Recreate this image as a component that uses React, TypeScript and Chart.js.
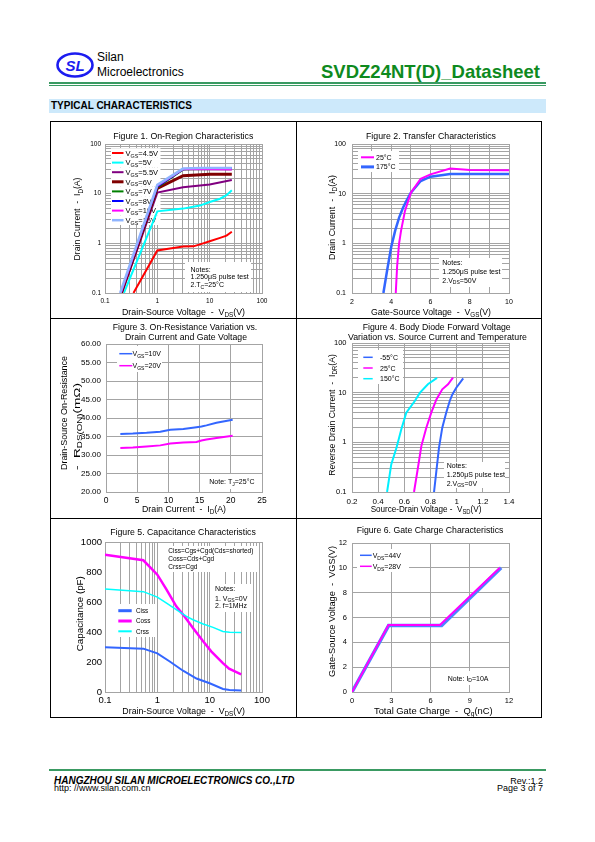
import React, { useEffect, useRef } from "react";
import { Chart, registerables } from "chart.js";

Chart.register(...registerables);

const FONT = "'Liberation Sans', Arial, Helvetica, sans-serif";
const GRID = "#a4a4a4";

// ---------------- Figure 1 : On-Region Characteristics ----------------
const f1Names = ["V_{GS}=4.5V", "V_{GS}=5V", "V_{GS}=5.5V", "V_{GS}=6V", "V_{GS}=7V", "V_{GS}=8V", "V_{GS}=10V", "V_{GS}=15V"];
const f1Colors = ["#ff0000", "#00ffff", "#800080", "#800000", "#008000", "#0000ff", "#ff00ff", "#8fb4ff"];
const f1Widths = [2, 2, 2, 3, 2, 2, 2, 2.5];
const f1Vds45 = [0.35, 1.0, 1.75, 3.1, 4.9, 7.5, 10, 15.8, 21, 26.5];
const f1Id45 = [0.1, 0.72, 0.79, 0.86, 0.87, 1.0, 1.1, 1.29, 1.43, 1.71];
const f1Vds5 = [0.23, 1.0, 3.1, 6.5, 10, 15.8, 21, 26.5];
const f1Id5 = [0.1, 4.4, 5.0, 5.75, 6.8, 7.9, 9.3, 11.7];
const f1Vds55 = [0.21, 1.0, 3.1, 10, 26.5];
const f1Id55 = [0.1, 10.5, 13.4, 15.3, 18.8];
const f1Vds6 = [0.205, 1.0, 3.1, 10, 26.5];
const f1Id6 = [0.1, 12.8, 23.0, 24.5, 24.5];
const f1Vds7 = [0.2, 1.0, 3.1, 10, 26.5];
const f1Id7 = [0.1, 13.5, 30.5, 31.5, 31];
const f1Vds8 = [0.2, 1.0, 3.1, 7, 26.5];
const f1Id8 = [0.1, 14, 31, 33, 32.5];
const f1Vds10 = [0.2, 1.0, 3.1, 10, 26.5];
const f1Id10 = [0.1, 14.5, 31, 31, 30.5];
const f1Vds15 = [0.195, 1.0, 3.1, 7, 26.5];
const f1Id15 = [0.1, 15, 32, 33, 33];

// ---------------- Figure 2 : Transfer Characteristics ----------------
const f2Names = ["25°C", "175°C"];
const f2Vgs25 = [4.23, 4.3, 4.4, 4.5, 4.7, 5.0, 5.5, 6.0, 7.0, 8.0, 10.0];
const f2Id25 = [0.1, 0.35, 1.0, 1.8, 4.5, 10.5, 20, 24.5, 32, 30, 29.5];
const f2Vgs175 = [3.6, 3.8, 4.0, 4.2, 4.4, 4.6, 4.8, 5.0, 5.5, 6.0, 7.0, 10.0];
const f2Id175 = [0.1, 0.3, 0.85, 1.8, 3.3, 5.2, 7.5, 10.5, 18, 22, 25, 25];

// ---------------- Figure 3 : On-Resistance ----------------
const f3Names = ["V_{GS}=10V", "V_{GS}=20V"];
const f3Id = [2.3, 4.3, 6.5, 8.7, 10.3, 12.4, 14.5, 15.3, 16.1, 17.7, 20.3];
const f3R10 = [35.7, 35.8, 36.0, 36.3, 36.8, 37.0, 37.5, 37.7, 38.0, 38.7, 39.5];
const f3R20 = [31.9, 32.0, 32.3, 32.6, 33.1, 33.4, 33.5, 33.9, 34.2, 34.6, 35.2];

// ---------------- Figure 4 : Body Diode ----------------
const f4Names = ["-55°C", "25°C", "150°C"];
const f4Vm55 = [0.827, 0.845, 0.865, 0.89, 0.92, 0.947, 0.967, 0.997, 1.05];
const f4Im55 = [0.1, 0.265, 0.78, 1.97, 3.95, 6.8, 9.2, 12.6, 19.4];
const f4V25 = [0.674, 0.7, 0.73, 0.768, 0.806, 0.845, 0.89, 0.934, 0.972];
const f4I25 = [0.1, 0.265, 0.84, 1.97, 3.95, 7.3, 11.7, 14.7, 20];
const f4V150 = [0.468, 0.5, 0.54, 0.577, 0.615, 0.68, 0.72, 0.78, 0.85];
const f4I150 = [0.1, 0.36, 0.78, 1.83, 3.95, 6.8, 10, 14.8, 19.8];

// ---------------- Figure 5 : Capacitance ----------------
const f5Names = ["Ciss", "Coss", "Crss"];
const f5VdsIss = [0.1, 0.54, 1.0, 1.7, 3.1, 5.6, 10, 18, 24, 40];
const f5Ciss = [298, 289, 258, 205, 142, 90, 58, 20, 14, 10];
const f5VdsOss = [0.1, 0.54, 1.0, 1.5, 2.3, 3.1, 4.8, 7.5, 10.7, 17.9, 23.5, 40];
const f5Coss = [915, 878, 782, 682, 571, 516, 427, 338, 271, 193, 155, 118];
const f5VdsRss = [0.1, 0.54, 1.0, 1.5, 2.3, 3.6, 4.8, 7.5, 11.6, 17.9, 24, 40];
const f5Crss = [687, 669, 633, 593, 549, 504, 482, 453, 431, 404, 398, 396];

// ---------------- Figure 6 : Gate Charge ----------------
const f6Names = ["V_{DS}=44V", "V_{DS}=28V"];
const f6Qg44 = [0, 2.8, 6.85, 11.4];
const f6Vgs44 = [0, 5.35, 5.35, 10];
const f6Qg28 = [0, 2.79, 6.72, 11.3];
const f6Vgs28 = [0, 5.39, 5.39, 10];

// ---------------- helpers ----------------
type Seg = { t: string; k: number };
function parseRich(s: string): Seg[] {
  const segs: Seg[] = [];
  let buf = "";
  let i = 0;
  while (i < s.length) {
    if ((s[i] === "_" || s[i] === "^") && s[i + 1] === "{") {
      if (buf) segs.push({ t: buf, k: 0 });
      buf = "";
      const end = s.indexOf("}", i);
      segs.push({ t: s.slice(i + 2, end), k: s[i] === "_" ? 1 : 2 });
      i = end + 1;
    } else {
      buf += s[i];
      i++;
    }
  }
  if (buf) segs.push({ t: buf, k: 0 });
  return segs;
}

function drawRich(ctx: CanvasRenderingContext2D, s: string, x: number, y: number, size: number, align: string, targetW?: number) {
  const segs = parseRich(s);
  const sub = size * 0.72;
  const widths: number[] = [];
  let w = 0;
  for (const sg of segs) {
    ctx.font = `${sg.k ? sub : size}px ${FONT}`;
    const m = ctx.measureText(sg.t).width;
    widths.push(m);
    w += m;
  }
  const sx = targetW ? targetW / w : 1;
  ctx.save();
  ctx.translate(x, y);
  ctx.scale(sx, 1);
  let cx = align === "center" ? -w / 2 : 0;
  ctx.fillStyle = "#000";
  ctx.textAlign = "left";
  ctx.textBaseline = "alphabetic";
  const base = size * 0.36;
  segs.forEach((sg, i) => {
    ctx.font = `${sg.k ? sub : size}px ${FONT}`;
    const dy = sg.k === 1 ? size * 0.25 : sg.k === 2 ? -size * 0.38 : 0;
    ctx.fillText(sg.t, cx, base + dy);
    cx += widths[i];
  });
  ctx.restore();
  return w * sx;
}

type Txt = { t: string; x: number; y: number; w?: number; size: number; rot?: boolean };
type LegendItem = { t: string; color: string; width: number };
type Legend = { x1: number; x2: number; tx: number; y0: number; step: number; size: number; items: LegendItem[]; box?: number[] };
type Note = { box?: number[]; tx: number; ys: number[]; lines: string[]; size: number };
type Decor = { texts: Txt[]; legend: Legend; notes: Note[] };

function makeDecor(ox: number, oy: number, d: Decor, borderTop: boolean) {
  return {
    id: "decor",
    beforeDatasetsDraw(chart: any) {
      const ctx: CanvasRenderingContext2D = chart.ctx;
      const a = chart.chartArea;
      if (borderTop) {
        ctx.save();
        ctx.strokeStyle = GRID;
        ctx.lineWidth = 1;
        const al = (p: number) => Math.round(p - 0.5) + 0.5;
        ctx.strokeRect(al(a.left), al(a.top), al(a.right) - al(a.left), al(a.bottom) - al(a.top));
        ctx.restore();
      }
      ctx.save();
      ctx.translate(-ox, -oy);
      ctx.fillStyle = "#fff";
      const lg = d.legend;
      if (lg.box) ctx.fillRect(lg.box[0], lg.box[1], lg.box[2], lg.box[3]);
      for (const n of d.notes) if (n.box) {
        ctx.fillStyle = "#fff";
        ctx.fillRect(n.box[0], n.box[1], n.box[2], n.box[3]);
      }
      lg.items.forEach((it, i) => {
        const y = lg.y0 + i * lg.step;
        if (!lg.box) {
          ctx.fillStyle = "#fff";
          ctx.fillRect(lg.x1 - 1, y - lg.step / 2, lg.tx - lg.x1 + 36, lg.step);
        }
        ctx.strokeStyle = it.color;
        ctx.lineWidth = it.width;
        ctx.beginPath();
        ctx.moveTo(lg.x1, y);
        ctx.lineTo(lg.x2, y);
        ctx.stroke();
        drawRich(ctx, it.t, lg.tx, y, lg.size, "left");
      });
      for (const n of d.notes) {
        n.lines.forEach((l, i) => drawRich(ctx, l, n.tx, n.ys[i], n.size, "left"));
      }
      ctx.restore();
    },
    afterDraw(chart: any) {
      const ctx: CanvasRenderingContext2D = chart.ctx;
      ctx.save();
      ctx.translate(-ox, -oy);
      for (const t of d.texts) {
        if (t.rot) {
          ctx.save();
          ctx.translate(t.x, t.y);
          ctx.rotate(-Math.PI / 2);
          drawRich(ctx, t.t, 0, 0, t.size, "center", t.w);
          ctx.restore();
        } else {
          drawRich(ctx, t.t, t.x, t.y, t.size, "center", t.w);
        }
      }
      ctx.restore();
    },
  };
}

type Axis = { type: string; min: number; max: number; step?: number; fmt: (v: number) => string; grid: boolean; font: number; pad: number };
type Cell = { x: number; y: number; w: number; h: number };
type Plot = { l: number; r: number; t: number; b: number };
type Cfg = { cell: Cell; plot: Plot; xa: Axis; ya: Axis; datasets: any[]; decor: Decor; borderTop?: boolean };

function logTicks(min: number, max: number) {
  const out: number[] = [];
  const e0 = Math.round(Math.log10(min));
  const e1 = Math.round(Math.log10(max));
  for (let e = e0; e < e1; e++) for (let m = 1; m < 10; m++) out.push(Number((m * Math.pow(10, e)).toPrecision(6)));
  out.push(max);
  return out;
}
const isDecade = (v: number) => {
  const l = Math.log10(v);
  return Math.abs(l - Math.round(l)) < 1e-6;
};
const logFmt = (v: number) => (isDecade(v) ? String(Number(v.toPrecision(6))) : "");

function scaleOpts(a: Axis, isX: boolean, cfg: Cfg) {
  const o: any = {
    type: a.type,
    min: a.min,
    max: a.max,
    position: isX ? "bottom" : "left",
    grid: { display: a.grid, color: GRID, lineWidth: 1, drawTicks: false },
    border: { display: true, color: GRID, width: 1 },
    ticks: {
      autoSkip: false,
      maxRotation: 0,
      minRotation: 0,
      padding: a.pad,
      color: "#000",
      font: { family: FONT, size: a.font },
      callback: (v: any) => a.fmt(Number(v)),
    },
    afterFit: (s: any) => {
      if (isX) s.height = cfg.cell.y + cfg.cell.h - cfg.plot.b;
      else s.width = cfg.plot.l - cfg.cell.x;
      s.paddingLeft = 0;
      s.paddingRight = 0;
      s.paddingTop = 0;
      s.paddingBottom = 0;
    },
  };
  if (a.step) o.ticks.stepSize = a.step;
  if (a.type === "logarithmic") {
    o.afterBuildTicks = (s: any) => {
      s.ticks = logTicks(a.min, a.max).map((v) => ({ value: v }));
    };
  }
  return o;
}

function series(xs: number[], ys: number[], color: string, width: number, order: number) {
  return {
    data: xs.map((x, i) => ({ x, y: ys[i] })),
    borderColor: color,
    backgroundColor: color,
    borderWidth: width,
    showLine: true,
    pointRadius: 0,
    fill: false,
    tension: 0,
    order,
  };
}

function ChartBox({ cfg }: { cfg: Cfg }) {
  const ref = useRef<HTMLCanvasElement>(null);
  useEffect(() => {
    const c = cfg;
    const chart = new Chart(ref.current as HTMLCanvasElement, {
      type: "scatter",
      data: { datasets: c.datasets },
      options: {
        animation: false,
        responsive: false,
        devicePixelRatio: 1,
        layout: { padding: { left: 0, bottom: 0, top: c.plot.t - c.cell.y, right: c.cell.x + c.cell.w - c.plot.r } },
        plugins: { legend: { display: false }, tooltip: { enabled: false }, title: { display: false } },
        scales: { x: scaleOpts(c.xa, true, c), y: scaleOpts(c.ya, false, c) },
      } as any,
      plugins: [makeDecor(c.cell.x, c.cell.y, c.decor, !!c.borderTop) as any],
    });
    return () => chart.destroy();
  }, []);
  return (
    <canvas
      ref={ref}
      width={cfg.cell.w}
      height={cfg.cell.h}
      style={{ position: "absolute", left: cfg.cell.x, top: cfg.cell.y, width: cfg.cell.w, height: cfg.cell.h }}
    />
  );
}

const LX = 51, LW = 245, RX = 298, RW = 243;
const R1 = { y: 122, h: 196 }, R2 = { y: 319, h: 199 }, R3 = { y: 519, h: 199 };
const TS = 9.5;

const fig1: Cfg = {
  cell: { x: LX, y: R1.y, w: LW, h: R1.h },
  plot: { l: 105, r: 262, t: 144, b: 293 },
  xa: { type: "logarithmic", min: 0.1, max: 100, fmt: logFmt, grid: true, font: 6.5, pad: 4.5 },
  ya: { type: "logarithmic", min: 0.1, max: 100, fmt: logFmt, grid: true, font: 6.5, pad: 4 },
  datasets: [
    series(f1Vds45, f1Id45, f1Colors[0], f1Widths[0], 0),
    series(f1Vds5, f1Id5, f1Colors[1], f1Widths[1], -1),
    series(f1Vds55, f1Id55, f1Colors[2], f1Widths[2], -2),
    series(f1Vds6, f1Id6, f1Colors[3], f1Widths[3], -3),
    series(f1Vds7, f1Id7, f1Colors[4], f1Widths[4], -4),
    series(f1Vds8, f1Id8, f1Colors[5], f1Widths[5], -5),
    series(f1Vds10, f1Id10, f1Colors[6], f1Widths[6], -6),
    series(f1Vds15, f1Id15, f1Colors[7], f1Widths[7], -7),
  ],
  decor: {
    texts: [
      { t: "Figure 1. On-Region Characteristics", x: 183.3, y: 135.5, w: 140, size: TS },
      { t: "Drain-Source Voltage  -  V_{DS}(V)", x: 183.5, y: 311.5, w: 123, size: TS },
      { t: "Drain Current  -  I_{D}(A)", x: 77, y: 219, w: 83, size: TS, rot: true },
    ],
    legend: {
      x1: 112, x2: 123.5, tx: 125.5, y0: 153, step: 9.6, size: 7.5,
      items: f1Names.map((t, i) => ({ t, color: f1Colors[i], width: f1Widths[i] })),
    },
    notes: [
      { box: [185, 262, 66, 30], tx: 190.5, ys: [269, 276.5, 284.5], lines: ["Notes:", "1.250μS pulse test", "2.T_{C}=25°C"], size: 7 },
    ],
  },
};

const fig2: Cfg = {
  cell: { x: RX, y: R1.y, w: RW, h: R1.h },
  plot: { l: 352, r: 509, t: 144, b: 293 },
  xa: { type: "linear", min: 2, max: 10, step: 1, fmt: (v) => (Math.round(v) % 2 === 0 ? String(Math.round(v)) : ""), grid: true, font: 7, pad: 5 },
  ya: { type: "logarithmic", min: 0.1, max: 100, fmt: logFmt, grid: true, font: 7, pad: 6 },
  datasets: [
    series(f2Vgs175, f2Id175, "#3366ff", 2.5, 1),
    series(f2Vgs25, f2Id25, "#ff00ff", 2, 0),
  ],
  decor: {
    texts: [
      { t: "Figure 2. Transfer Characteristics", x: 431, y: 135.5, w: 130, size: TS },
      { t: "Gate-Source Voltage  -  V_{GS}(V)", x: 431, y: 311.5, w: 120, size: TS },
      { t: "Drain Current  -  I_{D}(A)", x: 331.5, y: 217.5, w: 85, size: TS, rot: true },
    ],
    legend: {
      x1: 361, x2: 374, tx: 376, y0: 157.3, step: 9.6, size: 7, box: [358, 151, 41, 21],
      items: [
        { t: f2Names[0], color: "#ff00ff", width: 2 },
        { t: f2Names[1], color: "#3366ff", width: 3 },
      ],
    },
    notes: [
      { box: [439, 258, 63, 29], tx: 442.3, ys: [262.7, 271.5, 280], lines: ["Notes:", "1.250μS pulse test", "2.V_{DS}=50V"], size: 7 },
    ],
  },
};

const fig3: Cfg = {
  cell: { x: LX, y: R2.y, w: LW, h: R2.h },
  plot: { l: 106, r: 262, t: 344, b: 492 },
  xa: { type: "linear", min: 0, max: 25, step: 5, fmt: (v) => String(Math.round(v)), grid: true, font: 8.5, pad: 4 },
  ya: { type: "linear", min: 20, max: 60, step: 5, fmt: (v) => v.toFixed(2), grid: true, font: 8, pad: 5 },
  datasets: [
    series(f3Id, f3R10, "#3366ff", 2, 1),
    series(f3Id, f3R20, "#ff00ff", 2, 0),
  ],
  decor: {
    texts: [
      { t: "Figure 3. On-Resistance Variation vs.", x: 185, y: 326.3, w: 144.6, size: TS },
      { t: "Drain Current and Gate Voltage", x: 186, y: 337, w: 122, size: TS },
      { t: "Drain Current  -  I_{D}(A)", x: 184, y: 508.7, w: 84, size: TS },
      { t: "Drain-Source On-Resistance", x: 64, y: 413, w: 114, size: TS, rot: true },
      { t: "-  R_{DS(ON)}(mΩ)", x: 76.5, y: 426.5, w: 87, size: TS, rot: true },
    ],
    legend: {
      x1: 119.3, x2: 132.3, tx: 132.5, y0: 353.7, step: 12, size: 7, box: [117, 346, 45, 26],
      items: [
        { t: f3Names[0], color: "#3366ff", width: 1.5 },
        { t: f3Names[1], color: "#ff00ff", width: 1.5 },
      ],
    },
    notes: [{ box: [206, 474, 54, 15], tx: 209.3, ys: [481.3], lines: ["Note: T_{J}=25°C"], size: 7 }],
  },
};

const fig4: Cfg = {
  cell: { x: RX, y: R2.y, w: RW, h: R2.h },
  plot: { l: 352, r: 509, t: 343, b: 492 },
  xa: { type: "linear", min: 0.2, max: 1.4, step: 0.2, fmt: (v) => String(Number(v.toFixed(1))), grid: true, font: 8, pad: 4.5 },
  ya: { type: "logarithmic", min: 0.1, max: 100, fmt: logFmt, grid: true, font: 7.5, pad: 5.5 },
  datasets: [
    series(f4Vm55, f4Im55, "#3366ff", 2, 2),
    series(f4V25, f4I25, "#ff00ff", 2, 1),
    series(f4V150, f4I150, "#00f0ff", 2, 0),
  ],
  decor: {
    texts: [
      { t: "Figure 4. Body Diode Forward Voltage", x: 436.7, y: 326.3, w: 148, size: TS },
      { t: "Variation vs. Source Current and Temperature", x: 437.5, y: 336.3, w: 179, size: TS },
      { t: "Source-Drain Voltage -  V_{SD}(V)", x: 426, y: 508.7, w: 110.7, size: TS },
      { t: "Reverse Drain Current  -  I_{DR}(A)", x: 331.7, y: 415, w: 121.7, size: TS, rot: true },
    ],
    legend: {
      x1: 363.3, x2: 372.7, tx: 380, y0: 357.3, step: 10.7, size: 7, box: [358, 350, 45, 34],
      items: [
        { t: f4Names[0], color: "#3366ff", width: 1.5 },
        { t: f4Names[1], color: "#ff00ff", width: 1.5 },
        { t: f4Names[2], color: "#00f0ff", width: 1.5 },
      ],
    },
    notes: [
      { box: [444, 462, 61, 26], tx: 446.7, ys: [465.7, 474.7, 483], lines: ["Notes:", "1.250μS pulse test", "2.V_{GS}=0V"], size: 7 },
    ],
  },
};

const fig5: Cfg = {
  cell: { x: LX, y: R3.y, w: LW, h: R3.h },
  plot: { l: 105, r: 262, t: 542, b: 692 },
  xa: { type: "logarithmic", min: 0.1, max: 100, fmt: logFmt, grid: true, font: 9.5, pad: 2.5 },
  ya: { type: "linear", min: 0, max: 1000, step: 200, fmt: (v) => String(Math.round(v)), grid: false, font: 9.5, pad: 3 },
  borderTop: true,
  datasets: [
    series(f5VdsIss, f5Ciss, "#3366ff", 2, 2),
    series(f5VdsOss, f5Coss, "#ff00ff", 2.5, 1),
    series(f5VdsRss, f5Crss, "#00ffff", 1.5, 0),
  ],
  decor: {
    texts: [
      { t: "Figure 5. Capacitance Characteristics", x: 183, y: 531.3, w: 145.7, size: TS },
      { t: "Drain-Source Voltage  -  V_{DS}(V)", x: 183.7, y: 710.7, w: 122.7, size: TS },
      { t: "Capacitance (pF)", x: 80, y: 613.7, w: 75, size: TS, rot: true },
    ],
    legend: {
      x1: 118.3, x2: 131.7, tx: 136, y0: 610.7, step: 10.3, size: 6.3, box: [114, 604, 43, 33],
      items: [
        { t: f5Names[0], color: "#3366ff", width: 3 },
        { t: f5Names[1], color: "#ff00ff", width: 3 },
        { t: f5Names[2], color: "#00ffff", width: 2 },
      ],
    },
    notes: [
      {
        box: [165, 546, 92, 26], tx: 168.3, ys: [550.7, 558.7, 567], size: 6.5,
        lines: ["Ciss=Cgs+Cgd(Cds=shorted)", "Coss=Cds+Cgd", "Crss=Cgd"],
      },
      { box: [212, 584, 40, 28], tx: 215, ys: [588.7, 598, 605.7], size: 7, lines: ["Notes:", "1. V_{GS}=0V", "2. f=1MHz"] },
    ],
  },
};

const fig6: Cfg = {
  cell: { x: RX, y: R3.y, w: RW, h: R3.h },
  plot: { l: 352, r: 509, t: 543, b: 692 },
  xa: { type: "linear", min: 0, max: 12, step: 3, fmt: (v) => String(Math.round(v)), grid: true, font: 7.5, pad: 4.5 },
  ya: { type: "linear", min: 0, max: 12, step: 2, fmt: (v) => String(Math.round(v)), grid: true, font: 7.5, pad: 5 },
  datasets: [
    series(f6Qg44, f6Vgs44, "#4a86ff", 3.5, 1),
    series(f6Qg28, f6Vgs28, "#ff00ff", 2, 0),
  ],
  decor: {
    texts: [
      { t: "Figure 6. Gate Charge Characteristics", x: 430, y: 529.7, w: 146.7, size: TS },
      { t: "Total Gate Charge  -  Q_{g}(nC)", x: 433.3, y: 710.7, w: 118.7, size: TS },
      { t: "Gate-Source Voltage  -  VGS(V)", x: 331.3, y: 611.5, w: 131, size: TS, rot: true },
    ],
    legend: {
      x1: 360, x2: 371.7, tx: 372.7, y0: 555.3, step: 11, size: 7, box: [357, 549, 52, 23],
      items: [
        { t: f6Names[0], color: "#3366ff", width: 1.5 },
        { t: f6Names[1], color: "#ff00ff", width: 1.5 },
      ],
    },
    notes: [{ box: [445, 671, 48, 14], tx: 447.7, ys: [678], lines: ["Note: I_{D}=10A"], size: 7 }],
  },
};

const abs = (left: number, top: number, extra: any = {}): any => ({ position: "absolute", left, top, ...extra });

export default function App() {
  return (
    <div style={{ position: "absolute", left: 0, top: 0, width: 595, height: 842, background: "#fff", fontFamily: FONT, color: "#000" }}>
      {/* header */}
      <svg style={abs(55, 51)} width={42} height={28}>
        <ellipse cx={20} cy={14} rx={17.5} ry={11.5} fill="none" stroke="#1c1cf0" strokeWidth={2.6} />
        <text x={20} y={19.5} textAnchor="middle" fontFamily={FONT} fontStyle="italic" fontWeight="bold" fontSize={15} fill="#1c1cf0">SL</text>
      </svg>
      <div style={abs(97, 51, { fontSize: 12, lineHeight: "12px", whiteSpace: "nowrap" })}>Silan</div>
      <div style={abs(97, 66, { fontSize: 12, lineHeight: "12px", whiteSpace: "nowrap" })}>Microelectronics</div>
      <div style={{ position: "absolute", right: 55, top: 63, fontSize: 18.5, lineHeight: "18.5px", fontWeight: "bold", color: "#0e8a1e", whiteSpace: "nowrap" }}>
        SVDZ24NT(D)_Datasheet
      </div>
      <div style={abs(49, 82, { width: 497, height: 2, background: "#3a9a62" })} />
      <div style={abs(49, 85, { width: 497, height: 1, background: "#3a9a62" })} />
      <div style={abs(49, 99, { width: 497, height: 14, background: "#cde9fb" })} />
      <div style={abs(51, 101, { fontSize: 10, lineHeight: "10px", fontWeight: "bold", whiteSpace: "nowrap" })}>TYPICAL CHARACTERISTICS</div>

      {/* chart grid frame */}
      <div style={abs(50, 121, { width: 492, height: 597, border: "1px solid #000", boxSizing: "border-box" })} />
      <div style={abs(296, 121, { width: 1, height: 597, background: "#000" })} />
      <div style={abs(50, 318, { width: 492, height: 1, background: "#000" })} />
      <div style={abs(50, 518, { width: 492, height: 1, background: "#000" })} />

      <ChartBox cfg={fig1} />
      <ChartBox cfg={fig2} />
      <ChartBox cfg={fig3} />
      <ChartBox cfg={fig4} />
      <ChartBox cfg={fig5} />
      <ChartBox cfg={fig6} />

      {/* footer */}
      <div style={abs(49, 769, { width: 497, height: 1.5, background: "#3a9a62" })} />
      <div style={abs(54, 776, { fontSize: 10, lineHeight: "10px", fontWeight: "bold", fontStyle: "italic", whiteSpace: "nowrap" })}>
        HANGZHOU SILAN MICROELECTRONICS CO.,LTD
      </div>
      <div style={abs(54, 784, { fontSize: 9, lineHeight: "9px", whiteSpace: "nowrap" })}>http: //www.silan.com.cn</div>
      <div style={{ position: "absolute", right: 52, top: 776.5, fontSize: 9, lineHeight: "9px", whiteSpace: "nowrap" }}>Rev.:1.2</div>
      <div style={{ position: "absolute", right: 52, top: 784, fontSize: 9, lineHeight: "9px", whiteSpace: "nowrap" }}>Page 3 of 7</div>
    </div>
  );
}
